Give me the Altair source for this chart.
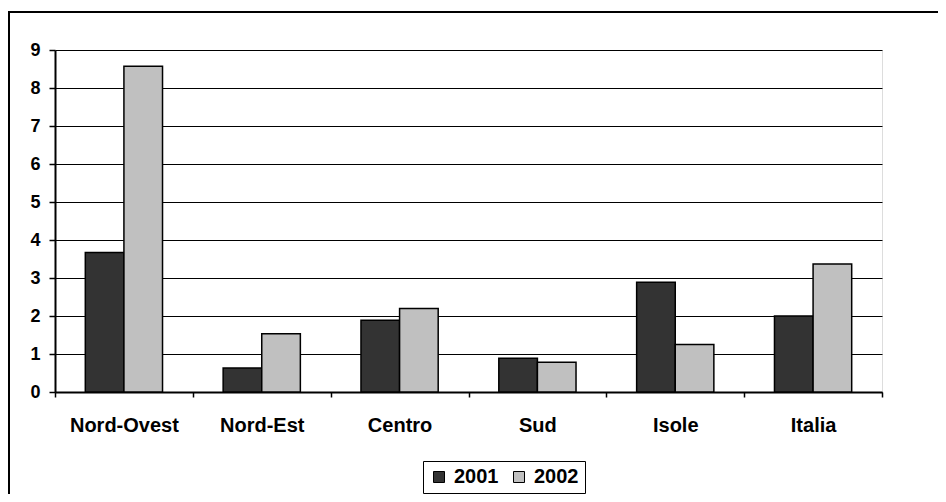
import altair as alt
import pandas as pd

regions = ["Nord-Ovest", "Nord-Est", "Centro", "Sud", "Isole", "Italia"]
years = ["2001", "2002"]
values_2001 = [3.67, 0.63, 1.89, 0.89, 2.89, 2.00]
values_2002 = [8.57, 1.53, 2.20, 0.78, 1.25, 3.37]
y_ticks = [0, 1, 2, 3, 4, 5, 6, 7, 8, 9]
colors = ["#333333", "#c0c0c0"]

rows = []
for r, a, b in zip(regions, values_2001, values_2002):
    rows.append({"region": r, "year": years[0], "value": a})
    rows.append({"region": r, "year": years[1], "value": b})
df = pd.DataFrame(rows)

FONT = "Liberation Sans"

bars = alt.Chart(df).mark_bar(stroke="black", strokeWidth=1.5).encode(
    x=alt.X(
        "region:N",
        sort=regions,
        scale=alt.Scale(paddingInner=0, paddingOuter=0),
        axis=alt.Axis(
            title=None, labelAngle=0, labelFontSize=20, labelFontWeight="bold",
            labelColor="black", labelFont=FONT, tickBand="extent", tickSize=5,
            tickColor="black", tickWidth=1.5, domainColor="black", domainWidth=2,
            labelPadding=18, grid=False,
        ),
    ),
    xOffset=alt.XOffset(
        "year:N", sort=years, scale=alt.Scale(paddingInner=0, paddingOuter=0.785)
    ),
    y=alt.Y(
        "value:Q",
        scale=alt.Scale(domain=[0, 9], nice=False),
        axis=alt.Axis(
            title=None, values=y_ticks, labelFontSize=18, labelFontWeight="bold",
            labelColor="black", labelFont=FONT, tickSize=6, tickColor="black",
            tickWidth=1.5, domainColor="black", domainWidth=2, gridColor="black",
            gridWidth=1, gridOpacity=1, labelPadding=9,
        ),
    ),
    color=alt.Color(
        "year:N",
        sort=years,
        scale=alt.Scale(domain=years, range=colors),
        legend=alt.Legend(
            title=None, orient="none", legendX=368, legendY=411,
            direction="horizontal", strokeColor="black", padding=6,
            symbolType="square", symbolSize=121, symbolStrokeColor="black",
            symbolStrokeWidth=1, labelFontSize=20, labelFontWeight="bold",
            labelFont=FONT, labelColor="black", columnPadding=10, labelOffset=5,
        ),
    ),
)

frame = alt.Chart(pd.DataFrame({"a": [0]})).mark_rect(
    fillOpacity=0, stroke="black", strokeWidth=2, clip=False
).encode(
    x=alt.value(-46), x2=alt.value(910), y=alt.value(-38), y2=alt.value(500)
)

chart = alt.layer(frame, bars).properties(
    width=827,
    height=342,
    autosize=alt.AutoSizeParams(type="none"),
    padding={"left": 47, "top": 42, "right": 56, "bottom": 102},
).configure_view(stroke="black", strokeWidth=2).configure(background="white")

chart.save("out.html", embed_options={"renderer": "svg", "actions": False})
